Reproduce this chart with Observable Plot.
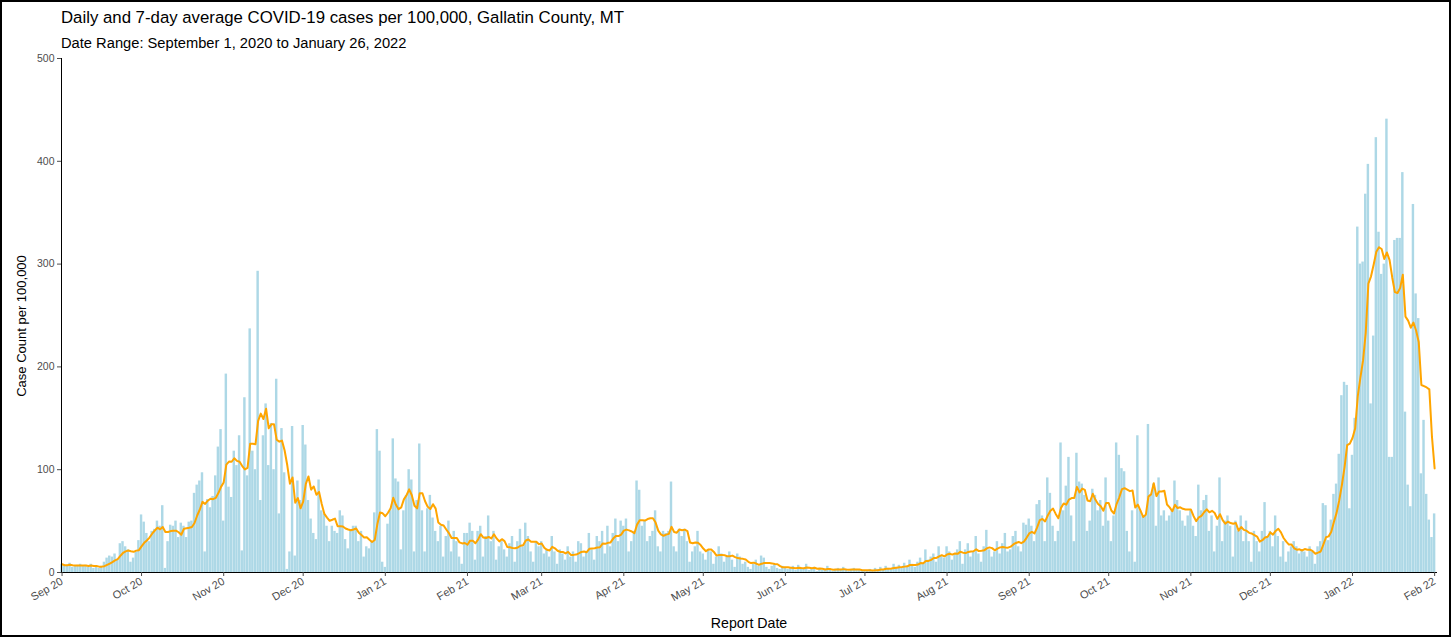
<!DOCTYPE html>
<html>
<head>
<meta charset="utf-8">
<script src="https://cdn.jsdelivr.net/npm/d3@7"></script>
<script src="https://cdn.jsdelivr.net/npm/@observablehq/plot@0.6"></script>
<style>
html, body { margin: 0; padding: 0; background: #fff; }
#wrap { position: relative; width: 1451px; height: 637px; overflow: hidden; font-family: "Liberation Sans", Arial, sans-serif; color: #000; }
#frame { position: absolute; left: 0; top: 0; width: 1451px; height: 637px; box-sizing: border-box; border: 2px solid #000; pointer-events: none; }
.t { position: absolute; white-space: nowrap; line-height: 1; }
#title { left: 61px; top: 10px; font-size: 16.8px; }
#subtitle { left: 61px; top: 36px; font-size: 14.7px; }
#xtitle { left: 749px; top: 623px; font-size: 14.2px; transform: translate(-50%, -50%); }
#ytitle { left: 21px; top: 326px; font-size: 13px; transform: translate(-50%, -50%) rotate(-90deg); }
#chart { position: absolute; left: 0; top: 50px; }
</style>
</head>
<body>
<div id="wrap">
  <div class="t" id="title">Daily and 7-day average COVID-19 cases per 100,000, Gallatin County, MT</div>
  <div class="t" id="subtitle">Date Range: September 1, 2020 to January 26, 2022</div>
  <div id="chart"></div>
  <div class="t" id="xtitle">Report Date</div>
  <div class="t" id="ytitle">Case Count per 100,000</div>
  <div id="frame"></div>
</div>
<script>
// first report date; every following value is the next day
const startDate = "2020-09-01";

// daily cases per 100,000, one array per month
const sep2020 = [8,6,7,9,5,6,7,8,6,7,5,8,4,6,4,6,10,14,16,15,18,12,28,30,25,22,10,14,20,31];
const oct2020 = [56,49,38,30,40,42,50,45,65,4,30,46,45,50,34,48,45,34,49,50,77,85,89,97,20,71,63,74,94,122,139];
const nov2020 = [50,193,83,73,118,104,133,21,170,94,237,118,100,293,70,133,164,104,145,100,188,57,140,97,3,20,142,16,89,70];
const dec2020 = [143,124,70,52,38,32,90,60,57,45,30,45,40,38,60,55,32,23,40,45,45,30,40,15,25,23,30,58,139,118,10];
const jan2021 = [5,47,60,130,91,88,22,60,75,100,90,20,70,125,60,20,62,75,53,40,30,45,15,35,50,20,40,30,15,8,38];
const feb2021 = [38,48,40,12,40,45,15,35,55,30,40,12,25,30,22,15,28,35,10,30,42,25,48,35,20,10,30,25];
const mar2021 = [30,18,22,15,35,20,8,22,18,12,25,15,20,10,30,28,15,20,38,22,12,35,30,40,18,45,25,38,52,30,50];
const apr2021 = [45,52,20,30,40,89,80,45,50,30,35,40,60,25,20,40,38,40,88,25,20,42,35,42,30,10,20,25,40,20];
const may2021 = [18,12,22,20,8,15,25,18,10,15,20,12,5,18,15,8,10,5,3,8,12,6,16,14,5,3,6,8,4,3,6];
const jun2021 = [5,3,4,6,2,7,3,4,8,2,3,5,1,4,2,3,6,2,1,3,4,2,5,3,1,2,4,3,2,1];
const jul2021 = [2,1,3,2,4,3,5,2,6,4,3,8,5,7,4,9,6,12,8,5,10,14,8,22,12,15,18,10,25,16,14];
const aug2021 = [25,20,12,18,22,30,8,22,28,15,20,35,18,10,25,41,22,15,20,30,18,28,38,20,22,35,40,25,20,48,46];
const sep2021 = [52,45,30,66,70,55,30,92,77,45,30,40,126,60,84,112,55,30,116,88,86,75,40,50,81,75,60,70,45,92];
const oct2021 = [50,30,55,126,114,101,98,40,20,60,10,133,60,55,55,144,75,86,45,92,55,60,50,55,60,89,70,60,50,45,55];
const nov2021 = [60,45,35,85,60,70,75,40,55,20,45,92,30,50,55,45,15,50,40,55,30,50,30,10,40,30,20,40,68,35];
const dec2021 = [40,25,55,35,15,30,10,20,25,30,25,18,22,20,15,25,20,8,25,30,67,65,31,51,76,86,115,172,185,182,62];
const jan2022 = [114,150,336,300,302,368,397,164,230,423,331,290,300,441,112,112,323,325,325,389,156,85,64,358,271,247,96,148,76,51,34];
const feb2022 = [57];

// axis ticks
const yTicks = [0, 100, 200, 300, 400, 500];
const xTicks = ["2020-09-01","2020-10-01","2020-11-01","2020-12-01","2021-01-01","2021-02-01","2021-03-01",
  "2021-04-01","2021-05-01","2021-06-01","2021-07-01","2021-08-01","2021-09-01","2021-10-01","2021-11-01",
  "2021-12-01","2022-01-01","2022-02-01"];

const parse = d3.utcParse("%Y-%m-%d");
const t0 = parse(startDate);
const daily = [].concat(sep2020, oct2020, nov2020, dec2020, jan2021, feb2021, mar2021, apr2021, may2021,
  jun2021, jul2021, aug2021, sep2021, oct2021, nov2021, dec2021, jan2022, feb2022);
const data = daily.map((v, i) => ({date: d3.utcDay.offset(t0, i), cases: v}));

const xDomain = [d3.utcHour.offset(t0, -5), d3.utcHour.offset(parse(xTicks[xTicks.length - 1]), 26)];

const chart = Plot.plot({
  width: 1451,
  height: 587,
  marginLeft: 61,
  marginRight: 14,
  marginTop: 8,
  marginBottom: 65,
  style: {fontFamily: "'Liberation Sans', Arial, sans-serif", fontSize: "11px", background: "transparent", overflow: "visible"},
  x: {type: "utc", domain: xDomain},
  y: {domain: [0, 500]},
  marks: [
    Plot.rectY(data, {
      x1: d => d3.utcHour.offset(d.date, -11),
      x2: d => d3.utcHour.offset(d.date, 11),
      y: "cases",
      fill: "#ADD8E6"
    }),
    Plot.lineY(data, Plot.windowY({k: 7, anchor: "end", reduce: "mean"}, {
      x: "date", y: "cases", stroke: "#FFA500", strokeWidth: 2
    })),
    Plot.ruleY([0], {stroke: "#000", strokeWidth: 1}),
    Plot.ruleX([xDomain[0]], {y1: 0, y2: 500, stroke: "#000", strokeWidth: 1}),
    Plot.axisY({ticks: yTicks, tickSize: 4, tickPadding: 3, color: "#4d4d4d", fontSize: 10.5, label: null}),
    Plot.axisX({
      ticks: xTicks.map(parse),
      tickFormat: d3.utcFormat("%b %y"),
      tickRotate: -30,
      tickSize: 4,
      tickPadding: 4,
      color: "#4d4d4d",
      fontSize: 11,
      label: null
    })
  ]
});
document.getElementById("chart").appendChild(chart);
</script>
</body>
</html>
